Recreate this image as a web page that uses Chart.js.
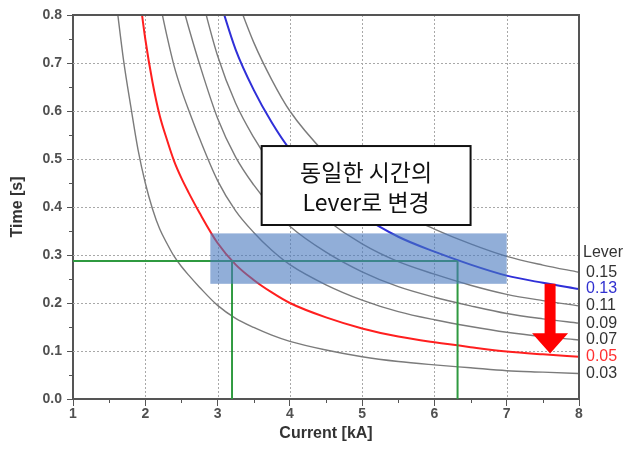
<!DOCTYPE html>
<html>
<head>
<meta charset="utf-8">
<script src="https://cdn.jsdelivr.net/npm/chart.js@4.4.0/dist/chart.umd.min.js"></script>
<style>
  html, body { margin: 0; padding: 0; background: #fff; }
  #wrap { width: 638px; height: 449px; }
</style>
</head>
<body>
<div id="wrap"><canvas id="c" width="638" height="449"></canvas></div>
<script>
// Current axis samples [kA]
const currents = [1.6, 1.7, 1.8, 1.9, 2.0, 2.1, 2.2, 2.3, 2.4, 2.5, 2.6, 2.75, 3.0, 3.25, 3.5, 3.75, 4.0, 4.5, 5.0, 5.5, 6.0, 6.5, 7.0, 7.5, 8.0];

// Operating time [s] for each lever setting (null = above the plotted range)
const lever003 = [0.825, 0.705, 0.609, 0.519, 0.450, 0.396, 0.354, 0.324, 0.297, 0.276, 0.258, 0.233, 0.195, 0.168, 0.149, 0.133, 0.120, 0.102, 0.088, 0.078, 0.071, 0.065, 0.059, 0.056, 0.053];
const lever005 = [null, null, null, 0.865, 0.750, 0.660, 0.590, 0.540, 0.495, 0.460, 0.430, 0.388, 0.325, 0.280, 0.248, 0.222, 0.200, 0.170, 0.147, 0.130, 0.118, 0.108, 0.099, 0.093, 0.088];
const lever007 = [null, null, null, null, null, null, 0.826, 0.756, 0.693, 0.644, 0.602, 0.543, 0.455, 0.392, 0.347, 0.310, 0.280, 0.238, 0.206, 0.182, 0.165, 0.151, 0.139, 0.130, 0.123];
const lever009 = [null, null, null, null, null, null, null, null, null, 0.828, 0.774, 0.698, 0.585, 0.504, 0.446, 0.399, 0.360, 0.306, 0.265, 0.234, 0.212, 0.194, 0.178, 0.167, 0.158];
const lever011 = [null, null, null, null, null, null, null, null, null, null, null, 0.853, 0.715, 0.616, 0.545, 0.487, 0.440, 0.374, 0.323, 0.286, 0.260, 0.237, 0.218, 0.205, 0.194];
const lever013 = [null, null, null, null, null, null, null, null, null, null, null, null, 0.845, 0.728, 0.644, 0.576, 0.520, 0.442, 0.382, 0.338, 0.307, 0.280, 0.257, 0.242, 0.229];
const lever015 = [null, null, null, null, null, null, null, null, null, null, null, null, null, 0.840, 0.743, 0.665, 0.600, 0.510, 0.441, 0.390, 0.354, 0.323, 0.297, 0.279, 0.264];

const leverNames = ['0.03', '0.05', '0.07', '0.09', '0.11', '0.13', '0.15'];
const leverSeries = [lever003, lever005, lever007, lever009, lever011, lever013, lever015];
const leverColors = ['#7b7b7b', '#ff1f1f', '#7b7b7b', '#7b7b7b', '#7b7b7b', '#2f2fd8', '#7b7b7b'];
const labelColors = ['#333', '#ff3030', '#333', '#333', '#333', '#3030d0', '#333'];

// Equal operating time reference
const sameTime = 0.2875;
const sameTimeCurrents = [3.2, 6.32];

// Highlighted time band
const bandCurrent = [2.9, 7.0];
const bandTime = [0.24, 0.345];

// Arrow from lever 0.13 down to lever 0.05
const arrowCurrent = 7.6;
const arrowTime = [0.24, 0.137, 0.095];

// Annotation box
const noteCurrent = [3.61, 6.5];
const noteTime = [0.527, 0.3625];
const noteLines = ['동일한 시간의', 'Lever로 변경'];

const xTicks = [1, 2, 3, 4, 5, 6, 7, 8];
const yTicks = [0, 0.1, 0.2, 0.3, 0.4, 0.5, 0.6, 0.7, 0.8];

const pts = (ys) => currents.map((x, i) => ({ x: x, y: ys[i] }));

const datasets = [];
// reference lines (green)
datasets.push({
  data: [{ x: 1, y: sameTime }, { x: sameTimeCurrents[1], y: sameTime }],
  borderColor: '#2f9a40', borderWidth: 2, pointRadius: 0, tension: 0
});
sameTimeCurrents.forEach(c => datasets.push({
  data: [{ x: c, y: 0 }, { x: c, y: sameTime }],
  borderColor: '#2f9a40', borderWidth: 2, pointRadius: 0, tension: 0
}));
leverSeries.forEach((s, i) => datasets.push({
  data: pts(s),
  borderColor: leverColors[i],
  borderWidth: (i === 1 || i === 5) ? 2 : 1.4,
  pointRadius: 0,
  cubicInterpolationMode: 'monotone',
  spanGaps: false
}));

const px = (chart, v) => chart.scales.x.getPixelForValue(v);
const py = (chart, v) => chart.scales.y.getPixelForValue(v);

const dottedGrid = {
  id: 'dottedGrid',
  beforeDatasetsDraw(chart) {
    const { ctx, chartArea: a } = chart;
    ctx.save();
    ctx.strokeStyle = '#a8a8a8';
    ctx.lineWidth = 1;
    ctx.setLineDash([2, 2]);
    xTicks.slice(1, -1).forEach(v => {
      const X = Math.round(px(chart, v)) + 0.5;
      ctx.beginPath(); ctx.moveTo(X, a.top); ctx.lineTo(X, a.bottom); ctx.stroke();
    });
    yTicks.slice(1, -1).forEach(v => {
      const Y = Math.round(py(chart, v)) + 0.5;
      ctx.beginPath(); ctx.moveTo(a.left, Y); ctx.lineTo(a.right, Y); ctx.stroke();
    });
    ctx.restore();
  }
};

const overlay = {
  id: 'overlay',
  afterDatasetsDraw(chart) {
    const { ctx, chartArea: a } = chart;
    ctx.save();
    // time band
    ctx.fillStyle = 'rgba(72,120,190,0.6)';
    const bx0 = px(chart, bandCurrent[0]), bx1 = px(chart, bandCurrent[1]);
    const by0 = py(chart, bandTime[1]), by1 = py(chart, bandTime[0]);
    ctx.fillRect(bx0, by0, bx1 - bx0, by1 - by0);

    // arrow
    const ax = px(chart, arrowCurrent);
    const aTop = py(chart, arrowTime[0]), aHead = py(chart, arrowTime[1]), aTip = py(chart, arrowTime[2]);
    ctx.fillStyle = '#ff0000';
    ctx.beginPath();
    ctx.moveTo(ax - 5.5, aTop);
    ctx.lineTo(ax + 5.5, aTop);
    ctx.lineTo(ax + 5.5, aHead);
    ctx.lineTo(ax + 18, aHead);
    ctx.lineTo(ax, aTip);
    ctx.lineTo(ax - 18, aHead);
    ctx.lineTo(ax - 5.5, aHead);
    ctx.closePath();
    ctx.fill();

    // note box
    const nx0 = px(chart, noteCurrent[0]), nx1 = px(chart, noteCurrent[1]);
    const ny0 = py(chart, noteTime[0]), ny1 = py(chart, noteTime[1]);
    ctx.fillStyle = '#fff';
    ctx.fillRect(nx0, ny0, nx1 - nx0, ny1 - ny0);
    ctx.strokeStyle = '#111';
    ctx.lineWidth = 2;
    ctx.strokeRect(nx0, ny0, nx1 - nx0, ny1 - ny0);
    ctx.fillStyle = '#111';
    ctx.font = '23px "Noto Sans CJK KR", sans-serif';
    ctx.textAlign = 'center';
    ctx.textBaseline = 'middle';
    const cx = (nx0 + nx1) / 2, h = ny1 - ny0;
    ctx.fillText(noteLines[0], cx, ny0 + h * 0.33);
    ctx.fillText(noteLines[1], cx, ny0 + h * 0.71);

    // frame on top / right
    ctx.strokeStyle = '#555';
    ctx.lineWidth = 2;
    ctx.beginPath();
    ctx.moveTo(a.left, a.top); ctx.lineTo(a.right, a.top); ctx.lineTo(a.right, a.bottom);
    ctx.stroke();

    // minor ticks
    ctx.lineWidth = 1;
    ctx.strokeStyle = '#555';
    for (let v = 1.5; v < 8; v += 1) {
      const X = Math.round(px(chart, v)) + 0.5;
      ctx.beginPath(); ctx.moveTo(X, a.bottom); ctx.lineTo(X, a.bottom + 4); ctx.stroke();
    }
    for (let k = 0; k < 8; k++) {
      const Y = Math.round(py(chart, 0.05 + k * 0.1)) + 0.5;
      ctx.beginPath(); ctx.moveTo(a.left - 4, Y); ctx.lineTo(a.left, Y); ctx.stroke();
    }

    // lever labels at the right end of each curve
    ctx.font = '16px "Liberation Sans", Arial, sans-serif';
    ctx.textAlign = 'left';
    ctx.textBaseline = 'middle';
    const lx = a.right + 7;
    leverSeries.forEach((s, i) => {
      ctx.fillStyle = labelColors[i];
      ctx.fillText(leverNames[i], lx, py(chart, s[s.length - 1]));
    });
    ctx.fillStyle = '#333';
    ctx.fillText('Lever', a.right + 4, py(chart, lever015[lever015.length - 1]) - 20);
    ctx.restore();
  }
};

new Chart(document.getElementById('c'), {
  type: 'line',
  data: { datasets: datasets },
  options: {
    responsive: false,
    animation: false,
    events: [],
    layout: { padding: { top: 15, right: 59, left: 0, bottom: 0 } },
    plugins: { legend: { display: false }, tooltip: { enabled: false } },
    scales: {
      x: {
        type: 'linear', min: 1, max: 8,
        afterFit: s => { s.height = 50; },
        afterBuildTicks: s => { s.ticks = xTicks.map(v => ({ value: v })); },
        ticks: { color: '#505050', font: { size: 14, weight: 'bold', family: '"Liberation Sans", Arial, sans-serif' }, padding: 0, maxRotation: 0, autoSkip: false },
        grid: { drawOnChartArea: false, drawTicks: true, tickLength: 7, tickColor: '#555', tickWidth: 1 },
        border: { color: '#555', width: 2 },
        title: { display: true, text: 'Current [kA]', color: '#333', font: { size: 16, weight: 'bold', family: '"Liberation Sans", Arial, sans-serif' }, padding: { bottom: 6 } }
      },
      y: {
        type: 'linear', min: 0, max: 0.8,
        afterFit: s => { s.width = 73; },
        afterBuildTicks: s => { s.ticks = yTicks.map(v => ({ value: v })); },
        ticks: { color: '#505050', font: { size: 14, weight: 'bold', family: '"Liberation Sans", Arial, sans-serif' }, padding: 5, callback: v => v.toFixed(1) },
        grid: { drawOnChartArea: false, drawTicks: true, tickLength: 6, tickColor: '#555', tickWidth: 1 },
        border: { color: '#555', width: 2 },
        title: { display: true, text: 'Time [s]', color: '#333', font: { size: 16, weight: 'bold', family: '"Liberation Sans", Arial, sans-serif' }, padding: { top: 8 } }
      }
    }
  },
  plugins: [dottedGrid, overlay]
});
</script>
</body>
</html>
